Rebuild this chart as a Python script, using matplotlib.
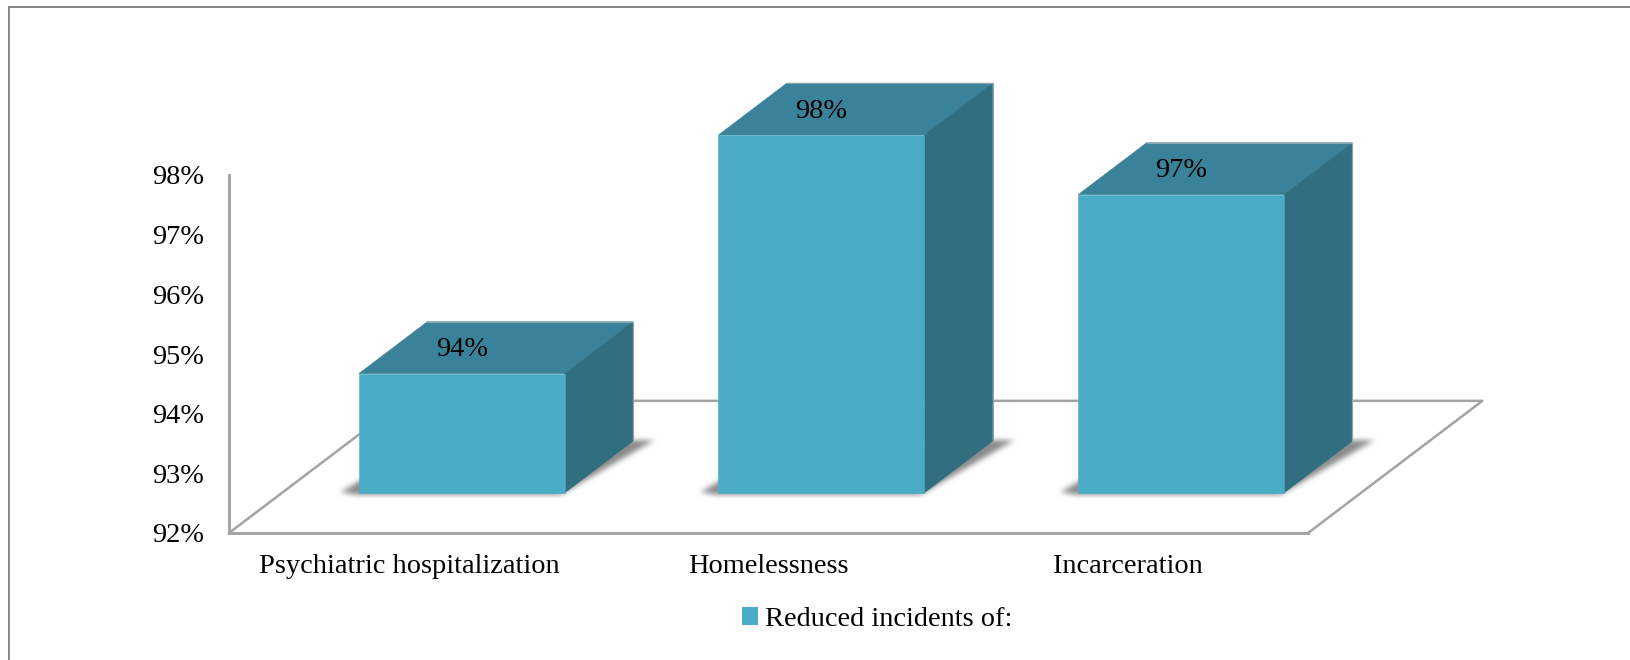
import matplotlib
matplotlib.use("Agg")
import numpy as np
import matplotlib.pyplot as plt
from matplotlib.lines import Line2D
from matplotlib.patches import Patch, Polygon
from matplotlib.path import Path

# Data
categories = ["Psychiatric hospitalization", "Homelessness", "Incarceration"]
values = [94, 98, 97]
value_labels = ["94%", "98%", "97%"]
y_ticks = [92, 93, 94, 95, 96, 97, 98]
y_labels = ["92%", "93%", "94%", "95%", "96%", "97%", "98%"]
legend_label = "Reduced incidents of:"

# Colors
FRONT = "#4AABC6"
TOP = "#3A8299"
SIDE = "#316F80"
AXIS_GRAY = "#A3A3A3"
FRAME_GRAY = "#868686"

# 3D look: how far the floor runs back, in x and y data units
DEPTH_X = 0.485
DEPTH_Y = 2.215
BAR_FRONT = 0.303
BAR_BACK = 0.695
HALF_W = 0.286
BASE = y_ticks[0]

W, H = 1631, 660
plt.rcParams["font.family"] = ["Liberation Serif", "DejaVu Serif"]

fig = plt.figure(figsize=(W / 100, H / 100), dpi=100, facecolor="white")
ax = fig.add_axes([229 / W, (H - 533) / H, 1079 / W, 358 / H])
ax.patch.set_alpha(0)


def project(x, y, depth):
    return (x + depth * DEPTH_X, y + depth * DEPTH_Y)


def blurred_shadow(pts, n_x=420, n_y=130):
    # rasterize the polygon, then soften it with a few box passes
    pts = np.array(pts)
    pad_x, pad_y = 0.06, 0.3
    x0, x1 = pts[:, 0].min() - pad_x, pts[:, 0].max() + pad_x
    y0, y1 = pts[:, 1].min() - pad_y, pts[:, 1].max() + pad_y
    gx, gy = np.meshgrid(np.linspace(x0, x1, n_x), np.linspace(y0, y1, n_y))
    grid = np.column_stack([gx.ravel(), gy.ravel()])
    mask = Path(pts).contains_points(grid).reshape(gx.shape).astype(float)
    kernel = np.ones(7) / 7
    for _ in range(3):
        mask = np.apply_along_axis(lambda r: np.convolve(r, kernel, mode="same"), 0, mask)
        mask = np.apply_along_axis(lambda r: np.convolve(r, kernel, mode="same"), 1, mask)
    rgba = np.zeros(mask.shape + (4,))
    rgba[..., :3] = 0.35
    rgba[..., 3] = mask * 0.7
    ax.imshow(rgba, extent=(x0, x1, y0, y1), origin="lower", aspect="auto",
              clip_on=False, zorder=2)


# Outer frame, cut off at the right and bottom of the picture
fig.add_artist(Line2D([9 / W, 9 / W], [0, 1 - 6.5 / H], color=FRAME_GRAY, lw=1.4))
fig.add_artist(Line2D([9 / W, 1], [1 - 6.5 / H, 1 - 6.5 / H], color=FRAME_GRAY, lw=1.4))

# Floor
floor = [project(-0.5, BASE, 0), project(-0.5, BASE, 1), project(2.5, BASE, 1), project(2.5, BASE, 0)]
ax.plot(*zip(*floor), color=AXIS_GRAY, lw=1.8, clip_on=False, zorder=1)

for i, val in enumerate(values):
    x0, x1 = i - HALF_W, i + HALF_W
    blurred_shadow([
        project(x0 - 0.05, BASE, BAR_FRONT),
        project(x0, BASE, BAR_FRONT - 0.02),
        project(x1, BASE, BAR_FRONT - 0.02),
        project(x1 + 0.06, BASE, BAR_BACK),
        project(x0, BASE, BAR_BACK),
    ])

    front = [project(x0, BASE, BAR_FRONT), project(x1, BASE, BAR_FRONT),
             project(x1, val, BAR_FRONT), project(x0, val, BAR_FRONT)]
    top = [project(x0, val, BAR_FRONT), project(x1, val, BAR_FRONT),
           project(x1, val, BAR_BACK), project(x0, val, BAR_BACK)]
    side = [project(x1, BASE, BAR_FRONT), project(x1, BASE, BAR_BACK),
            project(x1, val, BAR_BACK), project(x1, val, BAR_FRONT)]
    ax.add_patch(Polygon(top, closed=True, facecolor=TOP, edgecolor=TOP, lw=0.4, clip_on=False, zorder=3))
    ax.add_patch(Polygon(side, closed=True, facecolor=SIDE, edgecolor=SIDE, lw=0.4, clip_on=False, zorder=3))
    ax.add_patch(Polygon(front, closed=True, facecolor=FRONT, edgecolor=FRONT, lw=0.4, clip_on=False, zorder=4))

    # thin gray rim along the back edges
    rim = [project(x0, val, BAR_BACK), project(x1, val, BAR_BACK), project(x1, BASE, BAR_BACK)]
    ax.plot(*zip(*rim), color="#8FA3AA", lw=0.8, clip_on=False, zorder=4)

    lx, ly = project(i, val + 0.40, BAR_FRONT)
    ax.text(lx, ly, value_labels[i], ha="center", va="center", fontsize=20.4, color="black",
            clip_on=False, zorder=5)

# Axes
ax.set_xlim(-0.5, 2.5)
ax.set_ylim(92, 98)
for name in ["top", "right"]:
    ax.spines[name].set_visible(False)
for name in ["left", "bottom"]:
    ax.spines[name].set_color(AXIS_GRAY)
    ax.spines[name].set_linewidth(2.1)
ax.set_yticks(y_ticks)
ax.set_yticklabels(y_labels)
ax.set_xticks(range(len(categories)))
ax.set_xticklabels(categories)
ax.tick_params(axis="y", length=0, pad=18, labelsize=20.4)
ax.tick_params(axis="x", length=0, pad=15, labelsize=20.4)

fig.legend([Patch(facecolor=FRONT)], [legend_label], loc="center left",
           bbox_to_anchor=(742 / W, 1 - 619.5 / H), frameon=False, fontsize=20.4,
           handlelength=0.55, handleheight=0.55, handletextpad=0.25, borderpad=0, borderaxespad=0)

fig.savefig("out.png", dpi=100)
